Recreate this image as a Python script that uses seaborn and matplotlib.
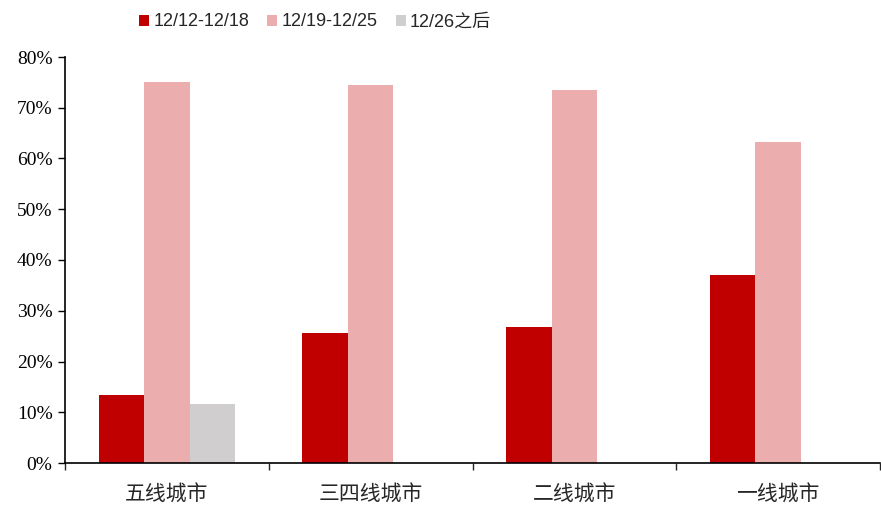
import matplotlib
matplotlib.use("Agg")
import matplotlib.pyplot as plt
import seaborn as sns
import pandas as pd
import numpy as np
from matplotlib.ticker import FixedLocator, PercentFormatter

categories = ["五线城市", "三四线城市", "二线城市", "一线城市"]
series_names = ["12/12-12/18", "12/19-12/25", "12/26之后"]
s1 = [13.4, 25.6, 26.8, 37.0]
s2 = [75.1, 74.5, 73.4, 63.2]
s3 = [11.6, np.nan, np.nan, np.nan]
colors = ["#C00000", "#EBADAD", "#D0CECE"]

rows = []
for name, vals in zip(series_names, [s1, s2, s3]):
    for c, v in zip(categories, vals):
        rows.append({"城市": c, "时间": name, "占比": v / 100.0})
df = pd.DataFrame(rows)

sns.set_style("white")
plt.rcParams['font.family'] = ['Liberation Sans', 'Noto Sans CJK SC', 'DejaVu Sans']

fig = plt.figure(figsize=(8.81, 5.07), dpi=100)
ax = fig.add_axes([65/881, 1-463/507, 815/881, (463-57)/507])

sns.barplot(data=df, x="城市", y="占比", hue="时间", order=categories,
            hue_order=series_names, palette=colors, width=0.67, ax=ax,
            saturation=1, errorbar=None, legend=True, linewidth=0)

ax.set_xlim(-0.5, 3.5)
ax.set_ylim(0, 0.8)
ax.set_yticks(np.arange(0, 0.81, 0.1))
ax.yaxis.set_major_formatter(PercentFormatter(1.0, decimals=0))
for lab in ax.get_yticklabels():
    lab.set_fontfamily(['Liberation Serif', 'DejaVu Serif'])
    lab.set_fontsize(14)
ax.tick_params(axis='y', direction='out', length=5, width=1, colors='black', left=True, pad=4)
ax.tick_params(axis='x', which='major', length=0, pad=15, labelsize=15)
ax.xaxis.set_minor_locator(FixedLocator([-0.5, 0.5, 1.5, 2.5, 3.5]))
ax.tick_params(axis='x', which='minor', direction='out', length=5, width=1, bottom=True)
for lab in ax.get_xticklabels():
    lab.set_fontfamily(['Noto Sans CJK SC', 'DejaVu Sans'])
ax.set_xlabel("")
ax.set_ylabel("")
for side in ["top", "right"]:
    ax.spines[side].set_visible(False)
for side in ["left", "bottom"]:
    ax.spines[side].set_color("black")
    ax.spines[side].set_linewidth(1.2)

handles, labels = ax.get_legend_handles_labels()
ax.get_legend().remove()
fig.legend(handles, labels, loc='center', bbox_to_anchor=(315/881, 1-22/507), ncol=3,
           frameon=False, handlelength=0.55, handleheight=0.55,
           handletextpad=0.25, columnspacing=1.0,
           prop={'family': ['Liberation Sans', 'Noto Sans CJK SC'], 'size': 13})

fig.savefig("out.png", dpi=100)
